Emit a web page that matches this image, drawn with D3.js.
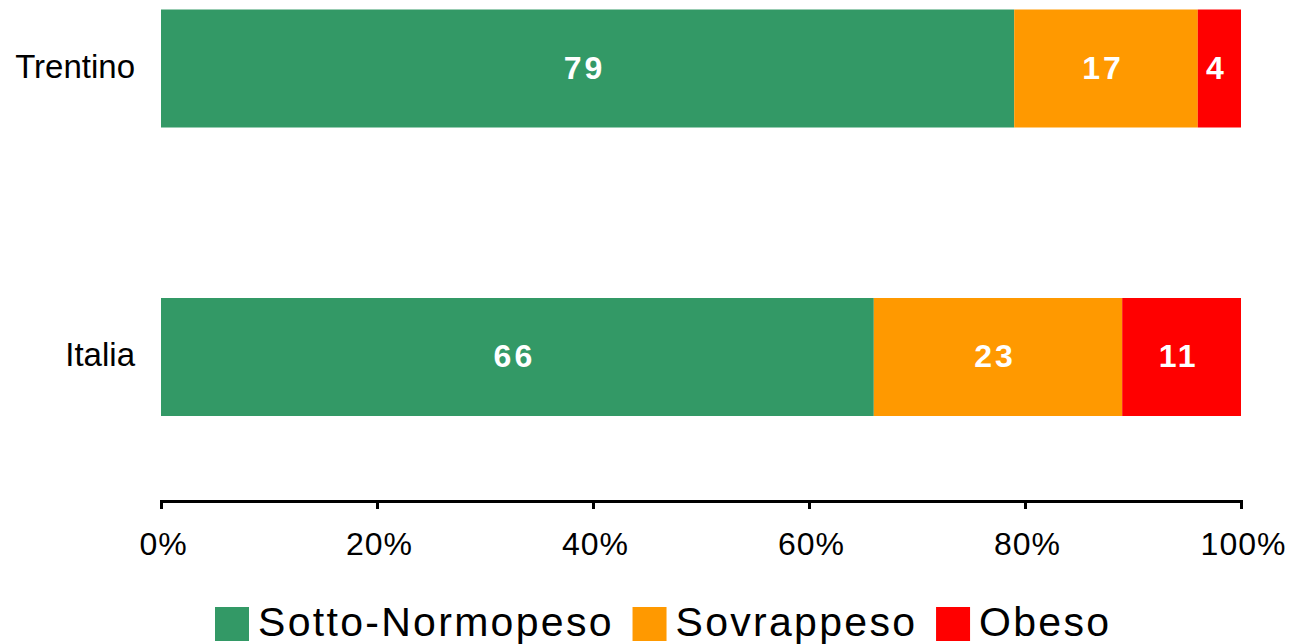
<!DOCTYPE html>
<html><head><meta charset="utf-8">
<script src="https://cdn.jsdelivr.net/npm/d3@7/dist/d3.min.js"></script>
<style>body{margin:0;background:#fff}svg{display:block;font-family:"Liberation Sans",Arial,sans-serif}</style>
</head><body>
<svg id="c" width="1289" height="644"></svg>
<script>
const categories = ["Trentino", "Italia"];
const seriesNames = ["Sotto-Normopeso", "Sovrappeso", "Obeso"];
const sottoNormopeso = [79, 66];
const sovrappeso = [17, 23];
const obeso = [4, 11];
const tickValues = [0, 20, 40, 60, 80, 100];
const colors = ["#339966", "#FF9900", "#FF0000"];

const svg = d3.select("#c");
const x = d3.scaleLinear().domain([0, 100]).range([161, 1241]);
const y = d3.scalePoint().domain(categories).range([68.5, 357]);
const barH = 118;

const stackData = categories.map((c, i) => ({cat: c, s0: sottoNormopeso[i], s1: sovrappeso[i], s2: obeso[i]}));
const stack = d3.stack().keys(["s0", "s1", "s2"])(stackData);

stack.forEach((layer, li) => {
  const g = svg.append("g");
  g.selectAll("rect").data(layer).join("rect")
    .attr("x", d => x(d[0]))
    .attr("width", d => x(d[1]) - x(d[0]))
    .attr("y", d => y(d.data.cat) - barH / 2)
    .attr("height", barH)
    .attr("fill", colors[li]);
  g.selectAll("text").data(layer).join("text")
    .attr("x", d => (x(d[0]) + x(d[1])) / 2 - 3)
    .attr("y", d => y(d.data.cat) + 10)
    .attr("text-anchor", "middle")
    .attr("fill", "#fff")
    .attr("font-weight", "bold")
    .attr("font-size", 32)
    .attr("letter-spacing", 3)
    .text(d => d[1] - d[0]);
});

// category labels
svg.append("g").selectAll("text").data(categories).join("text")
  .attr("x", 135).attr("y", d => y(d) + 9)
  .attr("text-anchor", "end").attr("font-size", 33).attr("fill", "#000")
  .text(d => d);

// x axis
const axis = d3.axisBottom(x).tickValues(tickValues).tickFormat(d => d + "%").tickSizeOuter(0).tickSize(8).tickPadding(23);
const ax = svg.append("g").attr("transform", "translate(0,501)").call(axis);
ax.select(".domain").attr("stroke", "#000").attr("stroke-width", 3);
ax.selectAll(".tick line").attr("stroke", "#000").attr("stroke-width", 3);
ax.selectAll(".tick text").attr("font-size", 32).attr("letter-spacing", 1).attr("dx", 2)
  .attr("fill", "#000").attr("font-family", '"Liberation Sans",Arial,sans-serif');

// legend
const lg = svg.append("g");
let lx = 215;
const ls = 2.3;
seriesNames.forEach((n, i) => {
  lg.append("rect").attr("x", lx).attr("y", 607).attr("width", 34).attr("height", 34).attr("fill", colors[i]);
  const t = lg.append("text").attr("x", lx + 43).attr("y", 636).attr("font-size", 41).attr("letter-spacing", ls).attr("fill", "#000").text(n);
  lx = lx + 43 + t.node().getComputedTextLength() - ls + 21;
});
</script>
</body></html>
